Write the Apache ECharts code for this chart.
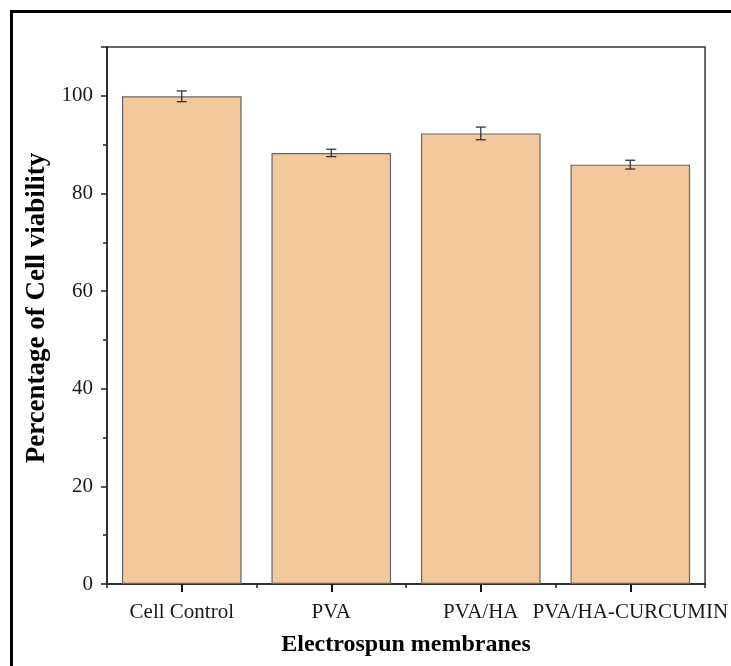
<!DOCTYPE html>
<html>
<head>
<meta charset="utf-8">
<script src="https://cdn.jsdelivr.net/npm/echarts@6/dist/echarts.min.js"></script>
<style>
html,body{margin:0;padding:0;background:#fff;}
#chart{width:731px;height:666px;}
</style>
</head>
<body>
<div id="chart"></div>
<script>
const categories = ['Cell Control', 'PVA', 'PVA/HA', 'PVA/HA-CURCUMIN'];
const viability = [99.9, 88.3, 92.3, 85.9];
const errors = [1.1, 0.75, 1.3, 0.9];
const yTicks = [0, 20, 40, 60, 80, 100];

const chart = echarts.init(document.getElementById('chart'));
const serif = '"Liberation Serif", "Times New Roman", serif';
const axisColor = '#222';

const errData = categories.map((c, i) => [i, viability[i] - errors[i], viability[i] + errors[i]]);

chart.setOption({
  animation: false,
  backgroundColor: '#fff',
  graphic: [{
    type: 'rect',
    shape: { x: 11.5, y: 11.5, width: 740, height: 680 },
    style: { fill: 'none', stroke: '#000', lineWidth: 3 },
    silent: true
  }],
  grid: { left: 107, top: 47, right: 25, bottom: 82, show: true, borderColor: '#333', borderWidth: 1.5, backgroundColor: 'transparent' },
  xAxis: [{
    type: 'category',
    data: categories,
    name: 'Electrospun membranes',
    nameLocation: 'middle',
    nameGap: 49,
    nameTextStyle: { fontFamily: serif, fontWeight: 'bold', fontSize: 24, color: '#000' },
    axisLine: { show: true, lineStyle: { color: axisColor, width: 1.5 } },
    axisTick: { show: true, alignWithLabel: true, interval: 0, length: 8, lineStyle: { color: '#111', width: 2 } },
    axisLabel: { interval: 0, hideOverlap: false, fontFamily: serif, fontSize: 21, color: '#1a1a1a', margin: 18 },
    splitLine: { show: false }
  }, {
    type: 'category',
    data: categories,
    position: 'bottom',
    axisLine: { show: false },
    axisTick: { show: true, alignWithLabel: false, interval: 0, length: 4, lineStyle: { color: axisColor, width: 1.5 } },
    axisLabel: { show: false },
    splitLine: { show: false }
  }],
  yAxis: {
    type: 'value',
    min: 0,
    max: 110,
    interval: 20,
    name: 'Percentage of Cell viability',
    nameLocation: 'middle',
    nameGap: 56,
    nameTextStyle: { fontFamily: serif, fontWeight: 'bold', fontSize: 27, color: '#000', padding: [0, 0, 0, 15] },
    axisLine: { show: true, lineStyle: { color: axisColor, width: 1.5 } },
    axisTick: { show: true, length: 6, lineStyle: { color: axisColor, width: 1.5 } },
    minorTick: { show: true, splitNumber: 2, length: 4, lineStyle: { color: axisColor, width: 1.5 } },
    axisLabel: {
      fontFamily: serif, fontSize: 21, color: '#1a1a1a', margin: 14,
      showMaxLabel: false,
      formatter: v => (yTicks.indexOf(v) >= 0 ? String(v) : '')
    },
    splitLine: { show: false }
  },
  series: [{
    type: 'bar',
    data: viability,
    barCategoryGap: '20%',
    itemStyle: { color: '#F2C89C', borderColor: '#666', borderWidth: 1.2 }
  }, {
    type: 'custom',
    data: errData,
    z: 10,
    renderItem: function (params, api) {
      const x = api.value(0);
      const lo = api.coord([x, api.value(1)]);
      const hi = api.coord([x, api.value(2)]);
      const w = 5;
      const st = { stroke: '#333', lineWidth: 1.3, fill: 'none' };
      return {
        type: 'group',
        children: [
          { type: 'line', shape: { x1: lo[0], y1: lo[1], x2: hi[0], y2: hi[1] }, style: st },
          { type: 'line', shape: { x1: lo[0] - w, y1: lo[1], x2: lo[0] + w, y2: lo[1] }, style: st },
          { type: 'line', shape: { x1: hi[0] - w, y1: hi[1], x2: hi[0] + w, y2: hi[1] }, style: st }
        ]
      };
    }
  }]
});
</script>
</body>
</html>
